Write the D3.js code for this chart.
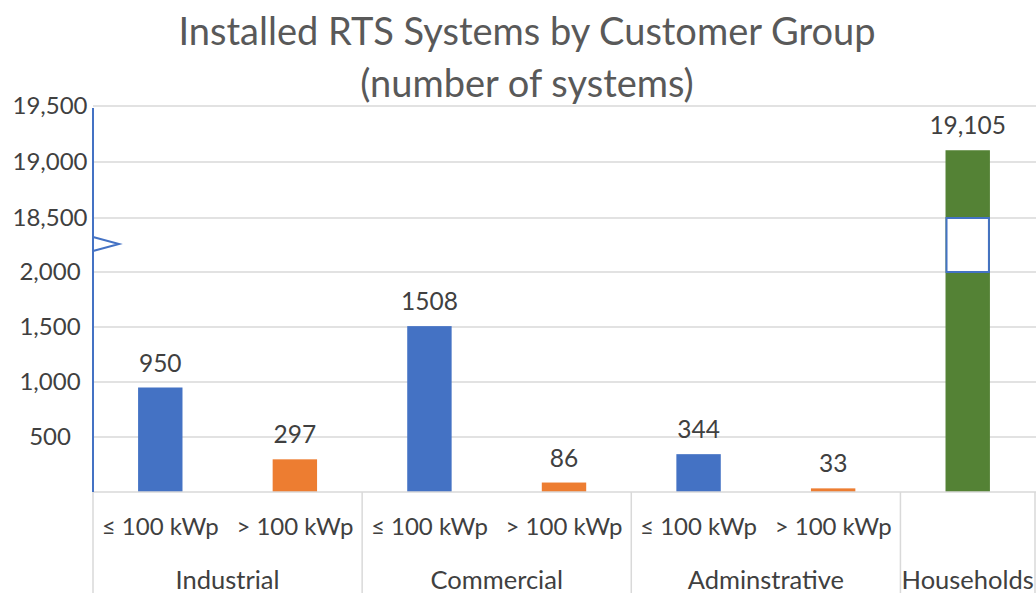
<!DOCTYPE html>
<html>
<head>
<meta charset="utf-8">
<script src="https://cdn.jsdelivr.net/npm/d3@7"></script>
<style>
  body { margin: 0; background: #fff; }
  svg { display: block; font-family: Lato, "Open Sans", sans-serif; }
</style>
</head>
<body>
<div id="chart"></div>
<script>
// Données
const groups = ["Industrial", "Commercial", "Adminstrative", "Households"];
const groupSizes = [2, 2, 2, 1];
const subLabels = ["≤ 100 kWp", "> 100 kWp", "≤ 100 kWp", "> 100 kWp", "≤ 100 kWp", "> 100 kWp", ""];
const series = ["small", "large", "small", "large", "small", "large", "house"];
const values = [950, 297, 1508, 86, 344, 33, 19105];
const valueLabels = ["950", "297", "1508", "86", "344", "33", "19,105"];
const tickValues = [500, 1000, 1500, 2000, 18500, 19000, 19500];
const axisBreak = [2000, 18500];

const colors = { small: "#4472C4", large: "#ED7D31", house: "#548235" };

//---------------------------------------------------------------------------------------

// Canevas
const width = 1036;
const height = 593;
const left = 93;
const right = 1035;
const base = 492;

const svg = d3.select("#chart")
  .append("svg")
  .attr("width", width)
  .attr("height", height);

// Titre
const title = svg.append("text")
  .attr("text-anchor", "middle")
  .attr("fill", "#595959")
  .attr("font-size", "38px");
title.append("tspan").attr("x", 527).attr("y", 45).text("Installed RTS Systems by Customer Group");
title.append("tspan").attr("x", 527).attr("y", 97).text("(number of systems)");

//---------------------------------------------------------------------------------------

// Échelles : axe Y coupé entre 2 000 et 18 500
const scaleY = d3.scaleLinear()
  .domain([0, axisBreak[0], axisBreak[1], 19500])
  .range([base, 272, 218, 106]);

const scaleX = d3.scaleBand()
  .domain(d3.range(values.length))
  .range([left, right])
  .paddingInner(0.67)
  .paddingOuter(0.335);

//---------------------------------------------------------------------------------------

// Grille horizontale
svg.append("g")
  .selectAll("line")
  .data(tickValues)
  .join("line")
  .attr("x1", left)
  .attr("x2", width)
  .attr("y1", d => scaleY(d))
  .attr("y2", d => scaleY(d))
  .attr("stroke", "#d9d9d9")
  .attr("stroke-width", 1.5);

// Axe Y (labels centrés comme dans l'original)
const yAxis = svg.append("g")
  .attr("transform", `translate(${left}, 0)`)
  .call(d3.axisLeft(scaleY).tickValues(tickValues).tickFormat(d3.format(",")).tickSize(0))
  .call(g => g.select(".domain").remove());
yAxis.selectAll("text")
  .attr("x", -43)
  .attr("text-anchor", "middle")
  .attr("font-size", "24px")
  .attr("font-family", "Lato, sans-serif")
  .attr("fill", "#404040");

//---------------------------------------------------------------------------------------

// Barres
svg.append("g")
  .selectAll("rect")
  .data(values)
  .join("rect")
  .attr("x", (d, i) => scaleX(i))
  .attr("y", d => scaleY(d))
  .attr("width", scaleX.bandwidth())
  .attr("height", d => scaleY(0) - scaleY(d))
  .attr("fill", (d, i) => colors[series[i]]);

// Coupure dans la barre des ménages
values.forEach((v, i) => {
  if (v > axisBreak[1]) {
    svg.append("rect")
      .attr("x", scaleX(i) + 1)
      .attr("y", scaleY(axisBreak[1]))
      .attr("width", scaleX.bandwidth() - 2)
      .attr("height", scaleY(axisBreak[0]) - scaleY(axisBreak[1]))
      .attr("fill", "#fff")
      .attr("stroke", "#4472C4")
      .attr("stroke-width", 2);
  }
});

// Labels de valeur
svg.append("g")
  .selectAll("text")
  .data(values)
  .join("text")
  .attr("x", (d, i) => scaleX(i) + scaleX.bandwidth() / 2)
  .attr("y", d => scaleY(d) - 16)
  .attr("text-anchor", "middle")
  .attr("font-size", "24.5px")
  .attr("fill", "#404040")
  .text((d, i) => valueLabels[i]);

//---------------------------------------------------------------------------------------

// Axe des catégories
svg.append("line")
  .attr("x1", left).attr("x2", width)
  .attr("y1", base).attr("y2", base)
  .attr("stroke", "#d9d9d9")
  .attr("stroke-width", 1.5);

// Séparateurs de groupes
const groupStarts = [];
let acc = 0;
groupSizes.forEach(n => { groupStarts.push(acc); acc += n; });
const sepX = groupStarts.map(s => scaleX(s) - scaleX.step() * scaleX.paddingInner() / 2)
  .concat([right]);
sepX[0] = left;

svg.append("g")
  .selectAll("line")
  .data(sepX)
  .join("line")
  .attr("x1", d => d).attr("x2", d => d)
  .attr("y1", base).attr("y2", height)
  .attr("stroke", "#d9d9d9")
  .attr("stroke-width", 1.5);

// Sous-catégories
svg.append("g")
  .selectAll("text")
  .data(subLabels)
  .join("text")
  .attr("x", (d, i) => scaleX(i) + scaleX.bandwidth() / 2)
  .attr("y", 535)
  .attr("text-anchor", "middle")
  .attr("font-size", "24px")
  .attr("fill", "#404040")
  .text(d => d);

// Groupes
svg.append("g")
  .selectAll("text")
  .data(groups)
  .join("text")
  .attr("x", (d, i) => (sepX[i] + sepX[i + 1]) / 2)
  .attr("y", 589)
  .attr("text-anchor", "middle")
  .attr("font-size", "25.5px")
  .attr("fill", "#404040")
  .text(d => d);

//---------------------------------------------------------------------------------------

// Ligne de l'axe Y et marque de coupure
svg.append("line")
  .attr("x1", left).attr("x2", left)
  .attr("y1", scaleY(19500) + 2).attr("y2", base)
  .attr("stroke", "#4472C4")
  .attr("stroke-width", 2);

const yMid = (scaleY(axisBreak[0]) + scaleY(axisBreak[1])) / 2 - 1;
svg.append("polyline")
  .attr("points", [[left, yMid - 7], [left + 26, yMid], [left, yMid + 7]].join(" "))
  .attr("fill", "none")
  .attr("stroke", "#4472C4")
  .attr("stroke-width", 2);
</script>
</body>
</html>
